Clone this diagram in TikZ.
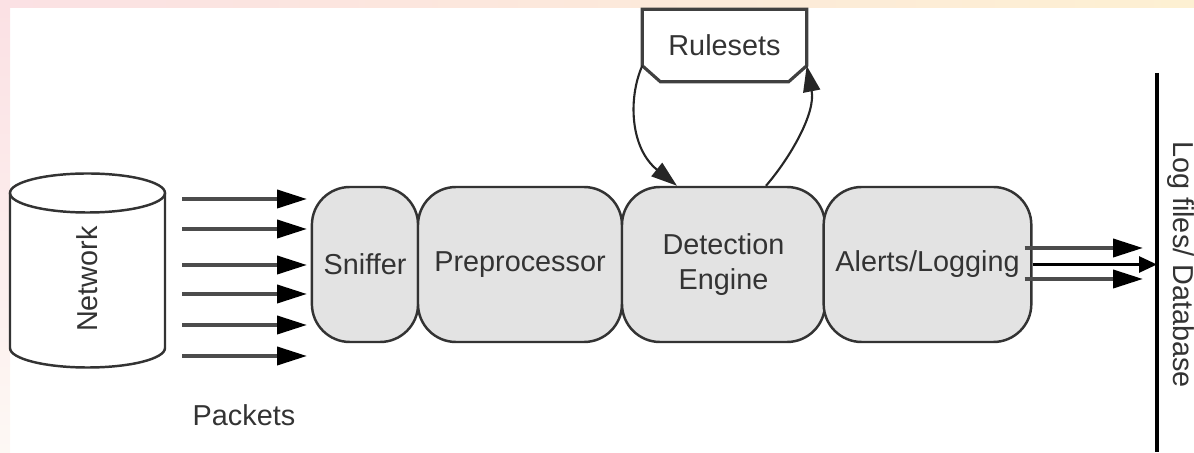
\documentclass[tikz,border=0pt]{standalone}
\usepackage{fontspec}
\setmainfont{Liberation Sans}
\usetikzlibrary{arrows.meta}

\definecolor{bandpink}{HTML}{FBE1E4}
\definecolor{bandpeach}{HTML}{F9DCB6}
\definecolor{bandcream}{HTML}{FDF0D2}
\definecolor{edgewhite}{HTML}{FDF8F4}

\begin{document}
\begin{tikzpicture}[>={Triangle[length=0.30cm,width=0.18cm,color=black]},
    every node/.style={font=\fontsize{8.2}{10}\selectfont, text=black!80},
    stage/.style={draw=black!80, line width=0.7pt, fill=black!11, rounded corners=0.38cm, minimum height=1.55cm},
    feed/.style={->, draw=black!70, line width=1.1pt},
    loop/.style={-{Triangle[length=0.26cm,width=0.17cm]}, line width=0.6pt, black!85}]
    \useasboundingbox (0,0) rectangle (11.94,4.53);
    % page border bands
    \shade[left color=bandpink, middle color=bandpeach, right color=bandcream] (0,4.45) rectangle (11.94,4.53);
    \shade[top color=bandpink, bottom color=edgewhite] (0,0) rectangle (0.10,4.45);

    % network drum
    \draw[black!80, line width=0.7pt, fill=white] (0.10,2.60) -- (0.10,1.05) arc[start angle=180, end angle=360, x radius=0.775, y radius=0.195] -- (1.65,2.60);
    \draw[black!80, line width=0.7pt] (0.875,2.60) ellipse[x radius=0.775, y radius=0.195];
    \node[rotate=90] (net) at (0.875,1.74) {Network};

    % incoming packets
    \foreach \y in {2.54,2.24,1.88,1.59,1.28,0.97}
        \draw[feed] (1.82,\y) -- (3.07,\y);
    \node (pkt) at (2.44,0.38) {Packets};

    % processing chain
    \node[stage, minimum width=1.06cm] (sniff) at (3.65,1.885) {Sniffer};
    \node[stage, minimum width=2.04cm] (prep) at (5.20,1.885) {Preprocessor};
    \node[stage, minimum width=2.03cm, align=center] (detect) at (7.235,1.885) {Detection\\Engine};
    \node[stage, minimum width=2.05cm] (alert) at (9.275,1.885) {Alerts/Logging};

    % rulesets
    \node[minimum width=1.63cm, minimum height=0.71cm] (rules) at (7.245,4.075) {Rulesets};
    \draw[black!75, line width=0.9pt] (rules.north west) -- (rules.north east) -- ([yshift=0.16cm]rules.south east)
        -- ([xshift=-0.18cm]rules.south east) -- ([xshift=0.18cm]rules.south west) -- ([yshift=0.16cm]rules.south west) -- cycle;
    \draw[loop] ([yshift=0.16cm]rules.south west) .. controls (6.28,3.55) and (6.30,3.05) .. ([xshift=-0.465cm]detect.north);
    \draw[loop] ([xshift=0.425cm]detect.north) .. controls (7.90,2.95) and (8.16,3.40) .. ([yshift=0.16cm]rules.south east);

    % output to storage
    \coordinate (dbtop) at (11.57,3.80);
    \coordinate (dbbot) at (11.57,0.01);
    \coordinate (db) at (11.57,1.885);
    \draw[line width=0.9pt] (dbtop) -- (dbbot);
    \draw[feed] ([xshift=-0.08cm,yshift=0.165cm]alert.east) -- ([xshift=-0.14cm,yshift=0.165cm]db);
    \draw[->, >={Triangle[length=0.18cm,width=0.16cm]}, line width=0.8pt] (alert.east) -- (db);
    \draw[feed] ([xshift=-0.08cm,yshift=-0.145cm]alert.east) -- ([xshift=-0.14cm,yshift=-0.145cm]db);
    \node[rotate=-90] (store) at (11.81,1.885) {Log files/ Database};
\end{tikzpicture}
\end{document}
